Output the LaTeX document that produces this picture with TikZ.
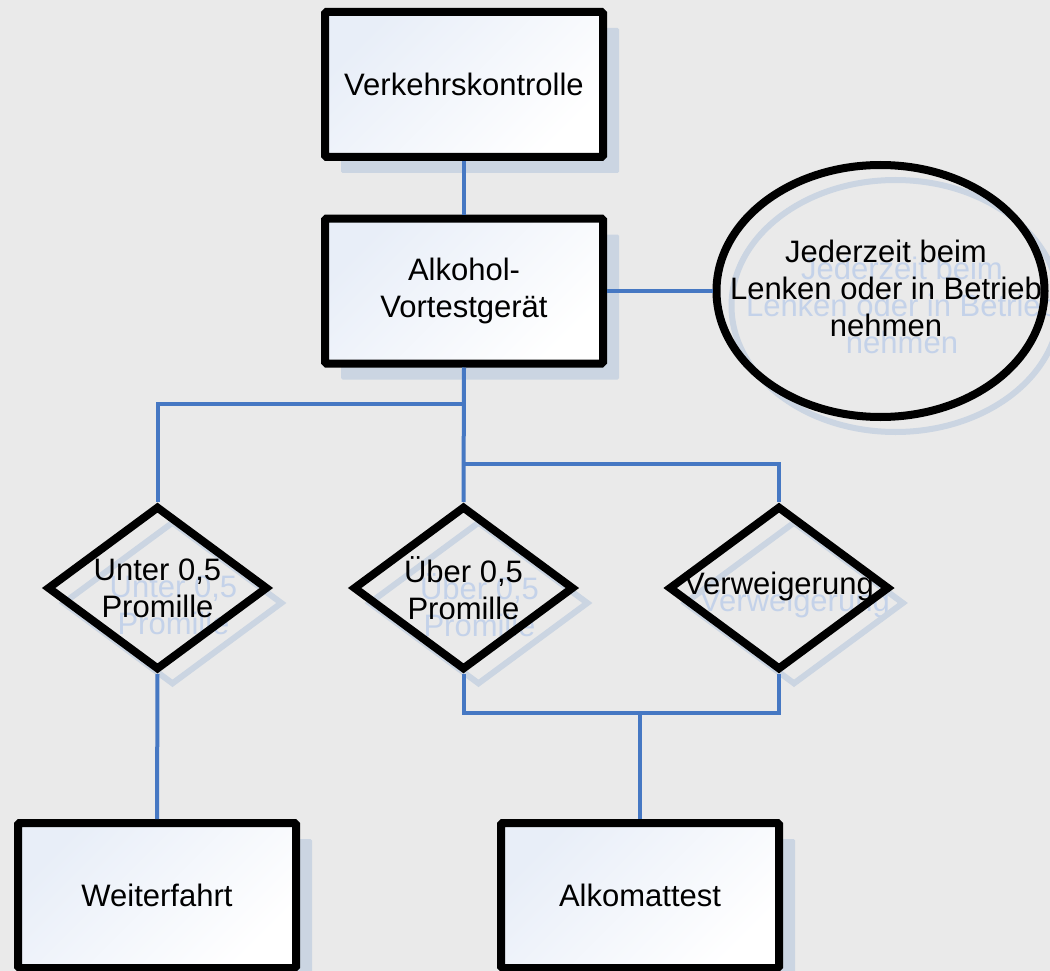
\documentclass[tikz,border=0pt]{standalone}
\usepackage{fontspec}
\setmainfont{Liberation Sans}
\usetikzlibrary{shapes.geometric, shadows}
\definecolor{bggrey}{RGB}{234,234,234}
\definecolor{shadowblue}{RGB}{203,213,226}
\definecolor{ghostblue}{RGB}{196,210,233}
\definecolor{boxblue}{RGB}{232,238,248}
\definecolor{wireblue}{RGB}{70,120,195}

\begin{document}
\begin{tikzpicture}
                \tikzset{x=1pt, y=-1pt}
                \tikzstyle{txt}=[align=center, inner sep=0pt, font=\fontsize{31}{37}\selectfont]
                \tikzstyle{ghost}=[txt, text=ghostblue, xshift=16pt, yshift=-17pt]
                \tikzstyle{box}=[txt, rectangle, draw, line width=8pt, rounded corners=1.5pt, minimum width=278pt, minimum height=145pt, top color=boxblue, bottom color=white, shading angle=45, general shadow={shadow xshift=16pt, shadow yshift=-16pt, fill=shadowblue}]
                \tikzstyle{test}=[diamond, draw, line width=8pt, minimum width=221pt, minimum height=164pt, inner sep=0pt, general shadow={shadow xshift=15pt, shadow yshift=-15pt, draw=shadowblue, line width=6pt}]
                \tikzstyle{note}=[ellipse, draw, line width=8pt, minimum width=328pt, minimum height=252pt, inner sep=0pt, general shadow={shadow xshift=15pt, shadow yshift=-15pt, draw=shadowblue, line width=6pt}]
                \tikzstyle{wire}=[draw=wireblue, line width=4pt]

                \fill[bggrey] (0, 0) rectangle (1050, 971);
                \useasboundingbox (0, 0) rectangle (1050, 971);

                \draw (157.5, 588)  node[ghost]     (g1)    {Unter 0,5\\Promille};
                \draw (463.5, 588)  node[ghost]     (g2)    {Über 0,5\\Promille};
                \draw (779, 586)    node[ghost]     (g3)    {Verweigerung};
                \draw (886, 288)    node[ghost]     (g4)    {Jederzeit beim\\Lenken oder in Betrieb\\nehmen};

                \draw (464, 84.5)   node[box]       (kontrolle) {Verkehrskontrolle};
                \draw (464, 291)    node[box]       (vortest)   {Alkohol-\\Vortestgerät};
                \draw (880.5, 291)  node[note]      (lenken)    {};
                \draw (157.5, 588)  node[test]      (unter)     {};
                \draw (463.5, 588)  node[test]      (ueber)     {};
                \draw (779, 588)    node[test]      (verw)      {};
                \draw (157, 895.5)  node[box]       (weiter)    {Weiterfahrt};
                \draw (640, 895.5)  node[box]       (alkomat)   {Alkomattest};

                \draw (886, 288)    node[txt]       (t4)    {Jederzeit beim\\Lenken oder in Betrieb\\nehmen};
                \draw (157.5, 588)  node[txt]       (t1)    {Unter 0,5\\Promille};
                \draw (463.5, 588)  node[txt]       (t2)    {Über 0,5\\Promille};
                \draw (779, 586)    node[txt]       (t3)    {Verweigerung};

                \coordinate (j1) at (464, 404);
                \coordinate (j2) at (464, 464);
                \coordinate (j3) at (640, 713);

                \draw[wire]         (kontrolle) -- (vortest);
                \draw[wire]         (vortest.east) -- (lenken.west);
                \draw[wire]         (vortest.south) -- (ueber.north);
                \draw[wire]         (j1) -| (unter.north);
                \draw[wire]         (j2) -| (verw.north);
                \draw[wire]         (unter.south) -- (weiter.north);
                \draw[wire]         (ueber.south) |- (j3) -| (verw.south);
                \draw[wire]         (j3) -- (alkomat.north);
            \end{tikzpicture}
\end{document}
